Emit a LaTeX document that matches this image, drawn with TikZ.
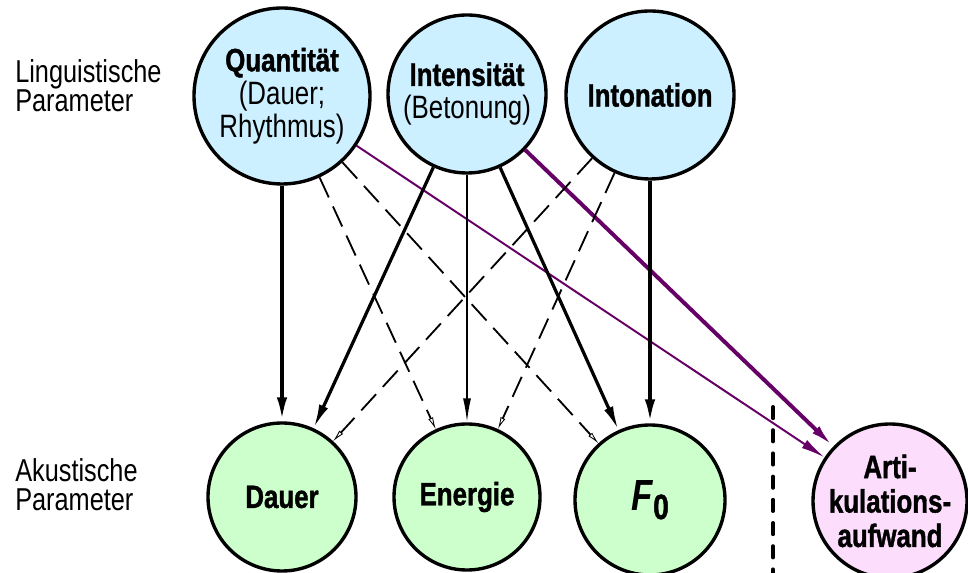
\documentclass[tikz,border=0pt]{standalone}
\usepackage{fontspec}
\setmainfont{Liberation Sans}[FakeStretch=0.8,BoldFeatures={FakeBold=1.2}]
\usetikzlibrary{arrows.meta}
\definecolor{lingblue}{RGB}{204,240,255}
\definecolor{akgreen}{RGB}{204,255,204}
\definecolor{artpink}{RGB}{252,222,252}
\definecolor{artpurple}{RGB}{102,0,102}
\tikzset{
    ling/.style={
        circle,
        draw,
        line width=2.4pt,
        fill=lingblue,
        align=center,
        inner sep=0pt,
        font=\fontsize{23}{23.5}\selectfont
    },
    akus/.style={
        circle,
        draw,
        line width=2.4pt,
        fill=akgreen,
        align=center,
        inner sep=0pt,
        font=\fontsize{23}{24.5}\selectfont\bfseries
    },
    side/.style={
        align=left,
        anchor=west,
        inner sep=0pt,
        font=\fontsize{22.5}{20.5}\selectfont
    },
    strong/.style={
        -{Latex[length=6mm,width=2.6mm]},
        line width=2.8pt
    },
    medium/.style={
        -{Latex[length=6mm,width=2.4mm]},
        line width=2.3pt
    },
    weak/.style={
        -{Latex[length=6mm,width=2mm]},
        line width=1.2pt
    },
    vague/.style={
        -{Latex[open,length=3mm,width=1.3mm,line width=0.6pt]},
        line width=1.3pt,
        dash pattern=on 5.5mm off 2.5mm
    },
    effort/.style={
        -{Latex[length=6mm,width=2.4mm]},
        line width=1.4pt,
        color=artpurple
    },
    strongeffort/.style={
        effort,
        line width=2.8pt
    },
    divider/.style={
        line width=2.8pt,
        line cap=round,
        dash pattern=on 2.8mm off 3mm
    }
}
\begin{document}
\begin{tikzpicture}

\useasboundingbox (0,0) rectangle (24.2,14.325);

\node[side] (linglbl) at (0.375,12.175) {Linguistische\\Parameter};
\node[side] (akuslbl) at (0.375,2.2) {Akustische\\Parameter};

\node[ling, minimum size=4.4cm] (quant) at (7.05,11.925)
    {{\bfseries Quantität}\\(Dauer;\\Rhythmus)};
\node[ling, minimum size=3.95cm] (intens) at (11.675,11.975)
    {{\bfseries Intensität}\\(Betonung)};
\node[ling, minimum size=4.2cm] (inton) at (16.25,11.95)
    {{\bfseries Intonation}};

\node[akus, minimum size=3.7cm] (dauer) at (7.05,1.9) {Dauer};
\node[akus, minimum size=3.65cm] (energie) at (11.675,1.9) {Energie};
\node[akus, minimum size=3.75cm] (fnull) at (16.25,1.825)
    {\fontsize{31}{31}\selectfont\textit{F}\raisebox{-6pt}{\fontsize{25}{25}\selectfont 0}};
\node[akus, fill=artpink, minimum size=3.85cm] (artik) at (22.25,1.8)
    {Arti-\\kulations-\\aufwand};

\coordinate (septop) at (19.325,4.15);
\coordinate (sepbot) at (19.325,0);
\draw[divider] (septop) -- (sepbot);

\draw[strong] (quant) -- (dauer);
\draw[vague] (quant) -- (energie);
\draw[vague] (quant) -- (fnull);
\draw[effort] (quant) -- (artik);

\draw[medium] (intens) -- (dauer);
\draw[weak] (intens) -- (energie);
\draw[medium] (intens) -- (fnull);
\draw[strongeffort] (intens) -- (artik);

\draw[vague] (inton) -- (dauer);
\draw[vague] (inton) -- (energie);
\draw[strong] (inton) -- (fnull);

\end{tikzpicture}
\end{document}
